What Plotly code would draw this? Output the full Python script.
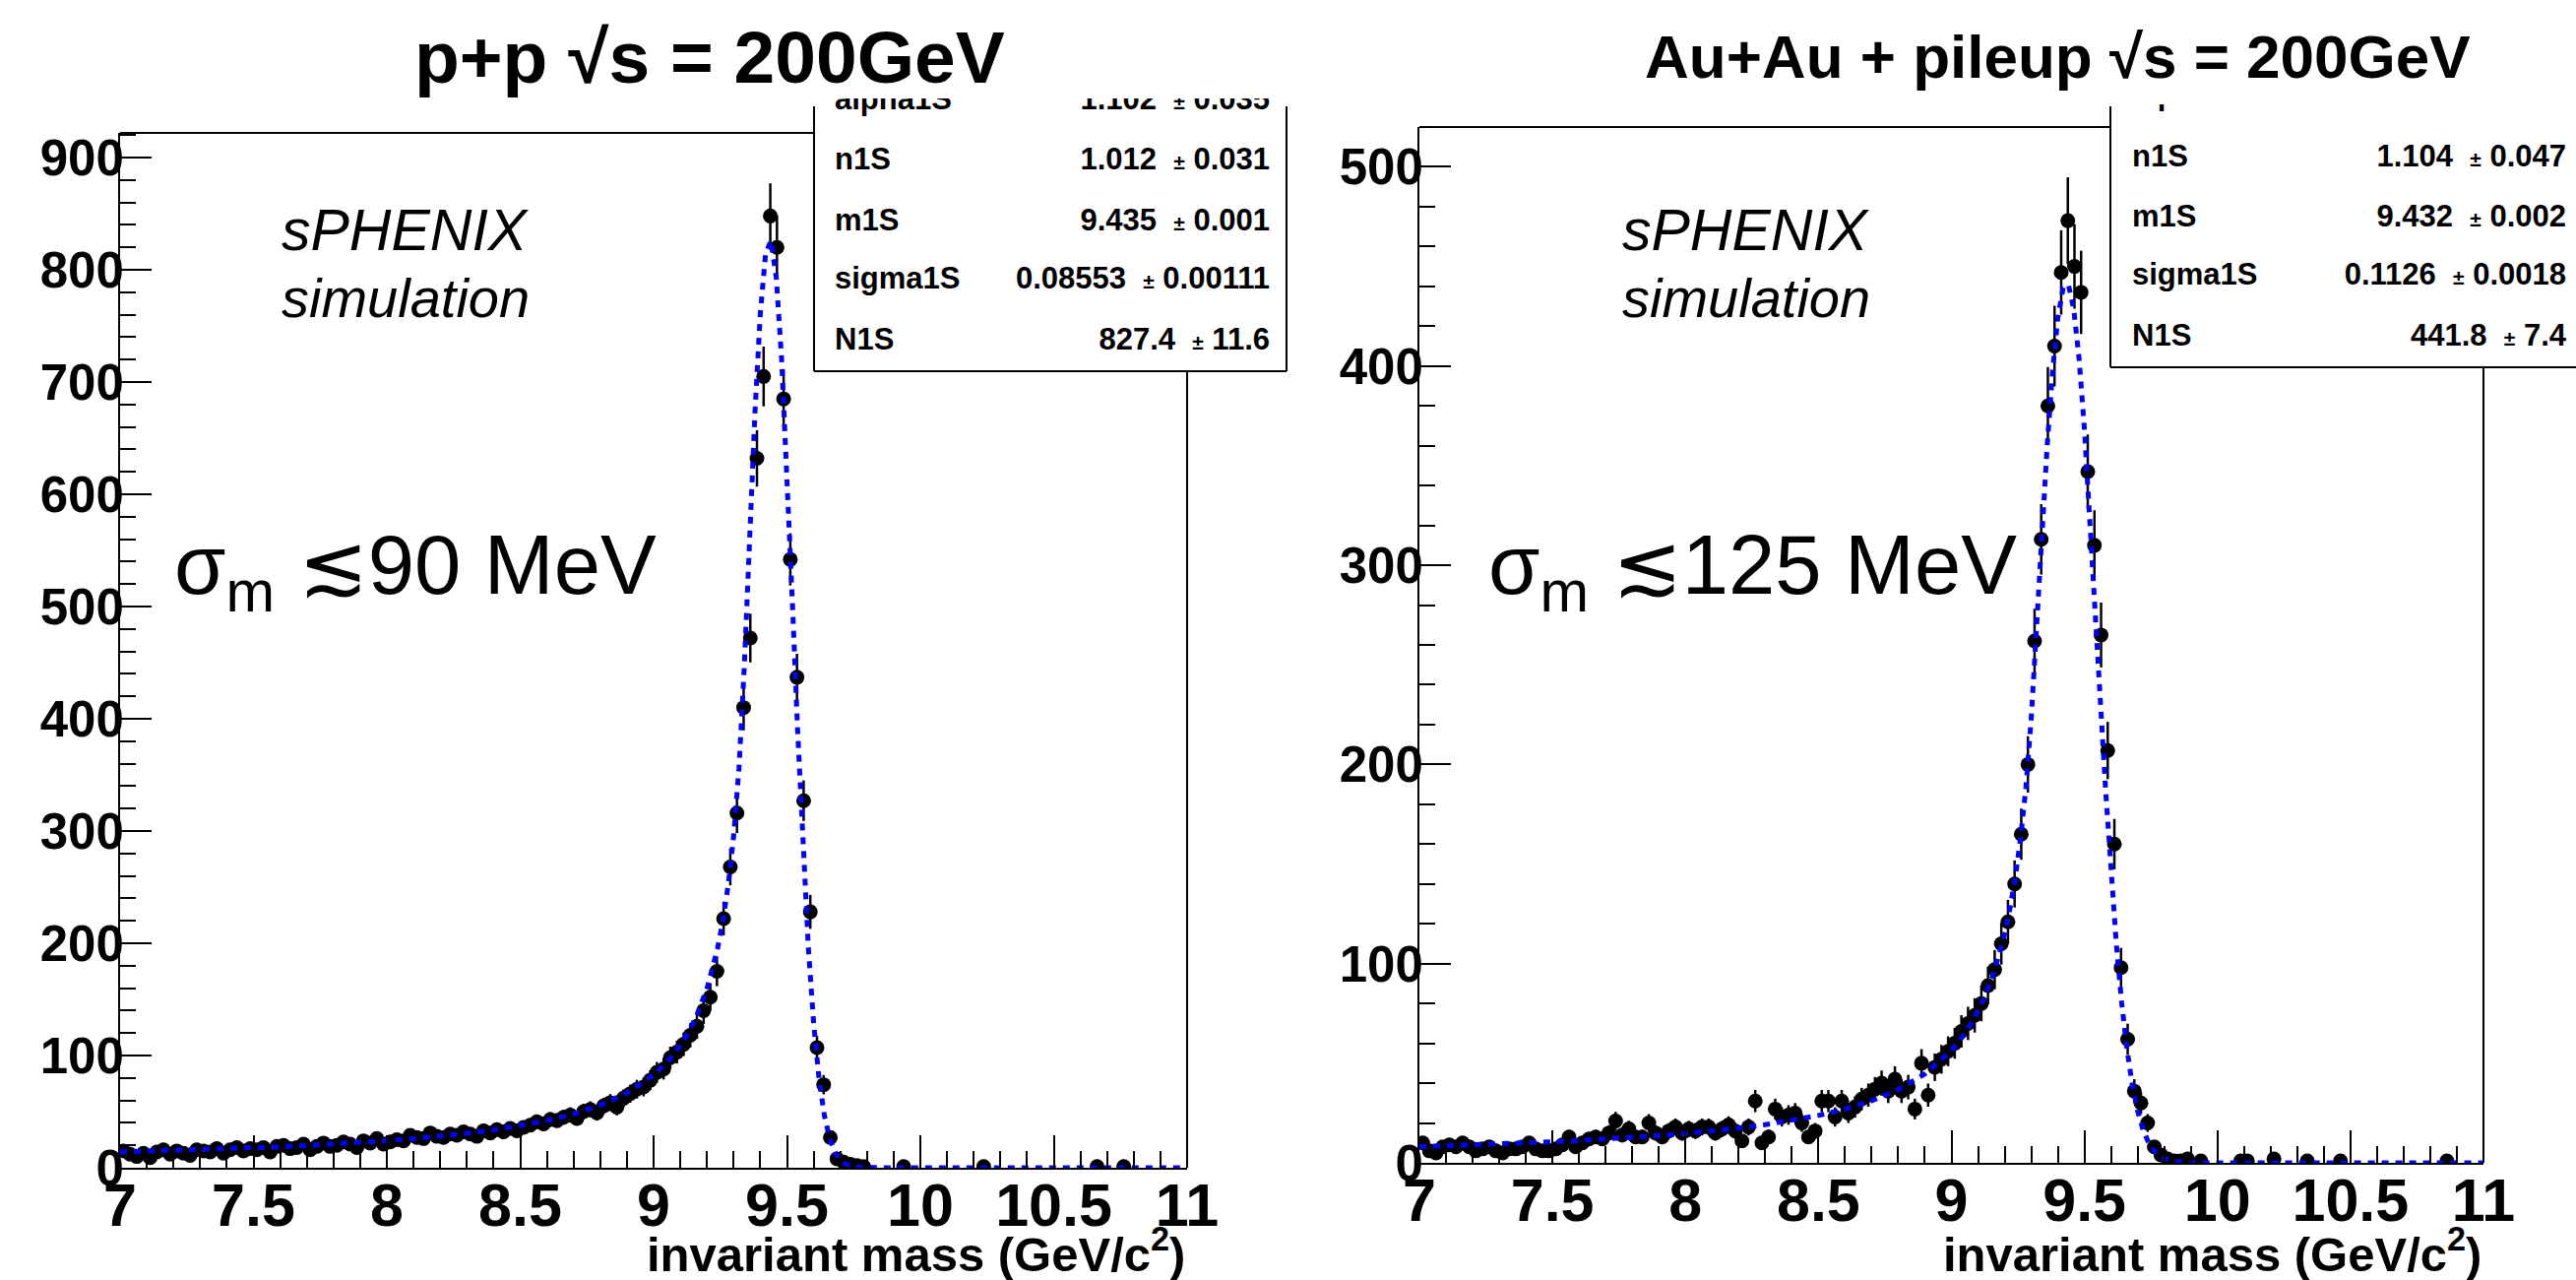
import numpy as np
import plotly.graph_objects as go

W, H = 2617, 1300
_ = None  # empty histogram bin

# ---------------- data ----------------
bin_lo = 7.0
bin_w = 0.025
n_bins = 160

# p+p counts per 0.025 GeV bin
pp_counts = [15, 12, 10, 13, 9, 14, 16, 12, 15, 13, 11, 16, 15, 14, 17, 13, 16, 18, 15, 17,
             16, 18, 14, 19, 20, 17, 18, 21, 16, 19, 22, 19, 20, 23, 21, 18, 24, 22, 26, 21,
             23, 25, 24, 29, 27, 26, 31, 28, 27, 30, 29, 32, 30, 28, 33, 31, 34, 32, 35, 33,
             36, 38, 41, 39, 43, 42, 45, 47, 44, 50, 52, 49, 55, 58, 54, 62, 66, 70, 72, 78,
             85, 88, 98, 103, 110, 118, 126, 140, 152, 175, 222, 268, 316, 410, 472, 632, 705, 848, 820, 685,
             542, 437, 327, 228, 107, 74, 27, 8, 5, 3, 2, 1, _, _, _, _, _, 1, _, _,
             _, _, _, _, _, _, _, _, _, 1, _, _, _, _, _, _, _, _, _, _,
             _, _, _, _, _, _, 1, _, _, _, 1, _, _, _, _, _, _, _, _, _]

# Au+Au + pileup counts per 0.025 GeV bin
au_counts = [10, 6, 5, 8, 9, 8, 10, 8, 6, 7, 8, 6, 5, 7, 7, 8, 10, 7, 6, 6,
             7, 9, 13, 8, 10, 12, 13, 12, 15, 21, 14, 17, 13, 13, 20, 15, 13, 16, 18, 15,
             17, 16, 18, 18, 15, 17, 19, 16, 11, 18, 31, 10, 13, 27, 23, 24, 25, 20, 13, 16,
             31, 31, 23, 31, 25, 28, 32, 34, 37, 40, 36, 42, 36, 38, 27, 50, 34, 48, 52, 56,
             60, 66, 70, 74, 80, 89, 97, 110, 121, 140, 165, 200, 262, 313, 380, 410, 447, 473, 450, 437,
             347, 310, 265, 207, 160, 98, 62, 36, 30, 20, 8, 4, 2, 1, 1, 2, _, 1, _, _,
             _, _, _, 1, 1, _, _, _, 2, _, _, _, _, 1, _, _, _, _, 1, _,
             _, _, _, _, _, _, _, _, _, _, _, _, _, _, 1, _, _, _, _, _]

# fitted curves
fit_x = [7.0, 7.1, 7.2, 7.3, 7.4, 7.5, 7.6, 7.7, 7.8, 7.9, 8.0, 8.1, 8.2, 8.3, 8.4, 8.5, 8.6, 8.7, 8.8, 8.9, 9.0,
         9.04, 9.08, 9.12, 9.16,
         9.20, 9.22, 9.24, 9.26, 9.28, 9.30, 9.32, 9.34, 9.36, 9.38, 9.40, 9.42, 9.44, 9.46, 9.48, 9.50,
         9.52, 9.54, 9.56, 9.58, 9.60, 9.62, 9.64, 9.66, 9.68, 9.70, 9.72, 9.74, 9.76, 9.78, 9.80,
         9.84, 9.88, 9.92, 10.0, 11.0]
pp_fit = [14.05, 14.66, 15.33, 16.06, 16.87, 17.76, 18.74, 19.85, 21.09, 22.50, 24.10, 25.94, 28.09, 30.63,
          33.68, 37.39, 42.02, 47.94, 55.75, 66.67, 82.80,
          91.61, 102.6, 116.4, 134.6,
          159.5, 175.7, 195.6, 220.4, 252.6, 295.3, 355.6, 446.6, 563.3, 672.9, 761.0, 814.7, 826.0, 792.8,
          720.4, 619.9, 505.0, 389.5, 284.4, 196.6, 128.7, 79.76, 46.80, 26.00, 13.68, 6.81, 3.21, 1.43,
          0.61, 0.24, 0.09,
          0.01, 0, 0, 0, 0]
au_fit = [8.19, 8.57, 9.00, 9.47, 9.99, 10.57, 11.21, 11.92, 12.74, 13.67, 14.74, 15.97, 17.43, 19.15,
          21.22, 23.78, 27.0, 31.16, 36.75, 44.60, 56.41,
          63.02, 71.20, 81.71, 95.65,
          114.9, 127.6, 143.2, 163.0, 188.6, 223.3, 269.4, 316.4, 360.1, 397.1, 424.3, 439.3, 440.7, 428.4,
          403.5, 368.2, 325.5, 278.9, 231.5, 186.3, 145.2, 109.6, 80.23, 56.86, 39.08, 26.01, 16.77, 10.48,
          6.35, 3.72, 2.12,
          0.62, 0.16, 0.04, 0, 0]

titles = ["p+p \u221as = 200GeV", "Au+Au + pileup \u221as = 200GeV"]
resolution_labels = ["90 MeV", "125 MeV"]
stat_names = ["alpha1S", "n1S", "m1S", "sigma1S", "N1S"]
pp_stat_vals = ["1.102", "1.012", "9.435", "0.08553", "827.4"]
pp_stat_errs = ["0.035", "0.031", "0.001", "0.00111", "11.6"]
au_stat_vals = ["1.107", "1.104", "9.432", "0.1126", "441.8"]
au_stat_errs = ["0.057", "0.047", "0.002", "0.0018", "7.4"]

# ---------------- layout geometry (pixels) ----------------
def px(x):
    return x / W

def py(y):
    return 1 - y / H

FONT = "Liberation Sans, Arial, Helvetica, sans-serif"
centers = bin_lo + bin_w * (np.arange(n_bins) + 0.5)

fig = go.Figure()

def add_hist(counts, xa, ya):
    err = [np.sqrt(c) if c is not None else None for c in counts]
    fig.add_trace(go.Scatter(
        x=centers[:len(counts)], y=counts, mode="markers", xaxis=xa, yaxis=ya,
        marker=dict(color="black", size=15, line=dict(width=0)),
        error_y=dict(type="data", array=err, color="black", thickness=2.5, width=0),
        showlegend=False, hoverinfo="skip"))

def add_fit(fy, xa, ya):
    fig.add_trace(go.Scatter(
        x=fit_x, y=fy, mode="lines", xaxis=xa, yaxis=ya,
        line=dict(color="#0000ff", width=5, dash="7px,7px"),
        showlegend=False, hoverinfo="skip"))

add_hist(pp_counts, "x", "y")
add_fit(pp_fit, "x", "y")
add_hist(au_counts, "x2", "y2")
add_fit(au_fit, "x2", "y2")

STAT_SIZE = 31

# stats boxes as small subplots (text clipped at the top like the reference)
def add_stats(vals, errs, rows_y, xa, ya, lab_x, val_x):
    fig.add_trace(go.Scatter(
        x=[lab_x] * len(stat_names), y=rows_y, mode="text", text=stat_names,
        textposition="middle right", xaxis=xa, yaxis=ya, cliponaxis=True,
        textfont=dict(family=FONT, size=STAT_SIZE, color="black", weight="bold"),
        showlegend=False, hoverinfo="skip"))
    txt = [f"{v}\u00a0\u00a0<span style='font-size:21px'>\u00b1</span>\u00a0{e}" for v, e in zip(vals, errs)]
    fig.add_trace(go.Scatter(
        x=[val_x] * len(stat_names), y=rows_y, mode="text", text=txt,
        textposition="middle left", xaxis=xa, yaxis=ya, cliponaxis=True,
        textfont=dict(family=FONT, size=STAT_SIZE, color="black", weight="bold"),
        showlegend=False, hoverinfo="skip"))

# left box: x 827..1307, y 100..377
lb = (827, 1307, 100, 377)
rows_l = [(lb[3] - y) / (lb[3] - lb[2]) for y in (103, 164, 226, 285, 347)]
add_stats(pp_stat_vals, pp_stat_errs, rows_l, "x3", "y3",
          (848 - lb[0]) / (lb[1] - lb[0]), (1290 - lb[0]) / (lb[1] - lb[0]))
# right box: x 2144..2617, y 106..373
rb = (2144, 2617, 106, 373)
rows_r = [(rb[3] - y) / (rb[3] - rb[2]) for y in (98, 161, 222, 281, 343)]
add_stats(au_stat_vals, au_stat_errs, rows_r, "x4", "y4",
          (2166 - rb[0]) / (rb[1] - rb[0]), (2607 - rb[0]) / (rb[1] - rb[0]))

def main_x(domain):
    return dict(domain=domain, range=[7, 11], showline=True, linecolor="black", linewidth=2,
                mirror=False, ticks="inside", ticklen=33, tickwidth=2, tickcolor="black",
                tick0=7, dtick=0.5, showgrid=False, zeroline=False, automargin=False,
                ticklabelstandoff=-16,
                tickfont=dict(family=FONT, size=61, color="black", weight="bold"),
                minor=dict(dtick=0.1, ticks="inside", ticklen=17, tickwidth=2, tickcolor="black",
                           showgrid=False),
                fixedrange=True)

def main_y(domain, top, anchor):
    return dict(domain=domain, range=[0, top], showline=True, linecolor="black", linewidth=2,
                mirror=False, ticks="inside", ticklen=32, tickwidth=2, tickcolor="black",
                tick0=0, dtick=100, showgrid=False, zeroline=False, anchor=anchor, automargin=False,
                ticklabelstandoff=-16,
                tickfont=dict(family=FONT, size=51, color="black", weight="bold"),
                minor=dict(dtick=20, ticks="inside", ticklen=16, tickwidth=2, tickcolor="black",
                           showgrid=False),
                fixedrange=True)

def box_axis(domain, anchor):
    return dict(domain=domain, range=[0, 1], visible=False, anchor=anchor, fixedrange=True,
                automargin=False)

L = (122, 1206, 135, 1186)
R = (1442, 2523, 129, 1181)

layout = dict(
    width=W, height=H, margin=dict(l=0, r=0, t=0, b=0, autoexpand=False),
    paper_bgcolor="white", plot_bgcolor="rgba(0,0,0,0)", showlegend=False,
    xaxis=main_x([px(L[0]), px(L[1])]),
    yaxis=main_y([py(L[3]), py(L[2])], 922, "x"),
    xaxis2=dict(main_x([px(R[0]), px(R[1])]), anchor="y2"),
    yaxis2=main_y([py(R[3]), py(R[2])], 520, "x2"),
    xaxis3=box_axis([px(lb[0]), px(lb[1])], "y3"),
    yaxis3=box_axis([py(lb[3]), py(lb[2])], "x3"),
    xaxis4=box_axis([px(rb[0]), 1.0], "y4"),
    yaxis4=box_axis([py(rb[3]), py(rb[2])], "x4"),
)
fig.update_layout(**layout)

# frame lines and stats-box borders
shapes = []
def hline(x0, x1, y):
    shapes.append(dict(type="line", xref="paper", yref="paper", x0=px(x0), x1=px(x1), y0=py(y), y1=py(y),
                       line=dict(color="black", width=2)))
def vline(x, y0, y1):
    shapes.append(dict(type="line", xref="paper", yref="paper", x0=px(x), x1=px(x), y0=py(y0), y1=py(y1),
                       line=dict(color="black", width=2)))

hline(L[0], lb[0], L[2]); vline(L[1], lb[3], L[3])
vline(lb[0], 108, lb[3]); hline(lb[0], lb[1], lb[3]); vline(lb[1], 108, lb[3])
hline(R[0], rb[0], R[2]); vline(R[1], rb[3], R[3])
vline(rb[0], 108, rb[3]); hline(rb[0], 2617, rb[3])
fig.update_layout(shapes=shapes)

ann = []
def text(x, y, s, size, xanchor="center", bold=False, italic=False):
    ann.append(dict(x=px(x), y=py(y), xref="paper", yref="paper", text=s, showarrow=False,
                    xanchor=xanchor, yanchor="middle",
                    font=dict(family=FONT, size=size, color="black",
                              weight="bold" if bold else "normal",
                              style="italic" if italic else "normal")))

text(721, 58, titles[0], 75, bold=True)
text(2090, 58, titles[1], 62, bold=True)
for cx in (412, 1774):
    text(cx, 234, "sPHENIX", 59, italic=True)
    text(cx, 302, "simulation", 56, italic=True)
text(175, 580, "\u03c3<sub>m</sub> \u2272" + resolution_labels[0], 85, xanchor="left")
text(1510, 580, "\u03c3<sub>m</sub> \u2272" + resolution_labels[1], 85, xanchor="left")
text(L[1], 1270, "invariant mass (GeV/c<sup>2</sup>)", 49, xanchor="right", bold=True)
text(R[1], 1270, "invariant mass (GeV/c<sup>2</sup>)", 49, xanchor="right", bold=True)
fig.update_layout(annotations=ann)

fig.write_html("out.html", post_script="document.body.style.margin='0px';",
               config={"displayModeBar": False})
